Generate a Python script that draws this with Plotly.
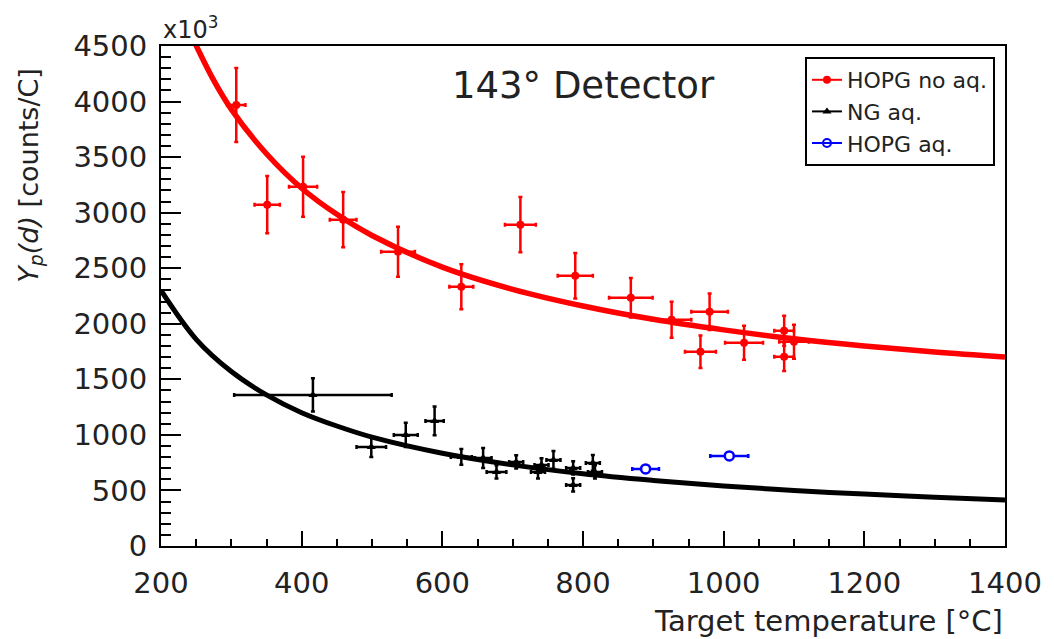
import plotly.graph_objects as go

# HOPG no aq. (red)
red_T = [307, 351, 402, 459, 537, 627, 711, 789, 868, 926, 980, 967, 1029, 1086, 1086, 1100]
red_Y = [3970, 3072, 3234, 2937, 2649, 2333, 2892, 2432, 2234, 2036, 2108, 1748, 1829, 1937, 1703, 1838]
red_xerr = [13, 18, 20, 19, 24, 17, 22, 25, 31, 28, 26, 22, 27, 14, 14, 21]
red_yerr = [333, 257, 270, 248, 225, 203, 248, 205, 177, 162, 165, 146, 153, 135, 128, 153]

# NG aq. (black)
ng_T = [416, 499, 548, 589, 627, 658, 677, 705, 736, 741, 758, 786, 786, 814, 817]
ng_Y = [1360, 892, 1000, 1126, 802, 793, 667, 757, 667, 730, 775, 703, 550, 748, 667]
ng_xerr = [112, 21, 17, 13, 15, 12, 14, 10, 10, 10, 10, 10, 10, 10, 10]
ng_yerr = [150, 90, 110, 130, 70, 90, 60, 60, 60, 60, 80, 60, 60, 70, 60]

# HOPG aq. (blue)
aq_T = [889, 1008]
aq_Y = [694, 811]
aq_xerr = [19, 27]
aq_yerr = [20, 20]

# fit curves
red_fit_T = [245, 275, 300, 350, 400, 450, 500, 600, 700, 800, 900, 1000, 1100, 1200, 1300, 1400]
red_fit_Y = [4570, 4190, 3930, 3530, 3220, 2985, 2795, 2510, 2310, 2160, 2040, 1945, 1865, 1800, 1745, 1700]
ng_fit_T = [200, 250, 300, 350, 400, 450, 500, 600, 700, 800, 900, 1000, 1100, 1200, 1300, 1400]
ng_fit_Y = [2300, 1860, 1570, 1360, 1200, 1080, 980, 835, 730, 650, 590, 540, 500, 467, 438, 414]

x_ticks = [200, 400, 600, 800, 1000, 1200, 1400]
y_ticks = [0, 500, 1000, 1500, 2000, 2500, 3000, 3500, 4000, 4500]

FONT = "DejaVu Sans"
TXT = "#222222"

fig = go.Figure()

# fits
fig.add_trace(go.Scatter(x=red_fit_T, y=red_fit_Y, mode="lines", line=dict(color="#ff0000", width=5.5, shape="spline"),
                         showlegend=False, hoverinfo="skip"))
fig.add_trace(go.Scatter(x=ng_fit_T, y=ng_fit_Y, mode="lines", line=dict(color="#000000", width=5, shape="spline"),
                         showlegend=False, hoverinfo="skip"))

# data
def data_trace(x, y, xe, ye, color, symbol, size, open_=False):
    return go.Scatter(
        x=x, y=y, mode="markers", showlegend=False,
        marker=dict(symbol=symbol, size=size, color="white" if open_ else color,
                    line=dict(color=color, width=2.5 if open_ else 0)),
        error_x=dict(type="data", array=xe, color=color, thickness=2.5, width=2),
        error_y=dict(type="data", array=ye, color=color, thickness=2.5, width=2),
    )

fig.add_trace(data_trace(red_T, red_Y, red_xerr, red_yerr, "#ff0000", "circle", 8))
fig.add_trace(data_trace(ng_T, ng_Y, ng_xerr, ng_yerr, "#000000", "triangle-up", 8))
fig.add_trace(data_trace(aq_T, aq_Y, aq_xerr, aq_yerr, "#0000ff", "circle", 9, open_=True))

# legend-only entries
fig.add_trace(go.Scatter(x=[None], y=[None], mode="lines+markers", name="HOPG no aq.",
                         line=dict(color="#ff0000", width=2), marker=dict(symbol="circle", size=8, color="#ff0000")))
fig.add_trace(go.Scatter(x=[None], y=[None], mode="lines+markers", name="NG aq.",
                         line=dict(color="#000000", width=2), marker=dict(symbol="triangle-up", size=8, color="#000000")))
fig.add_trace(go.Scatter(x=[None], y=[None], mode="lines+markers", name="HOPG aq.",
                         line=dict(color="#0000ff", width=2),
                         marker=dict(symbol="circle-open", size=8, color="#0000ff", line=dict(width=2))))

fig.update_layout(
    width=1054, height=639,
    margin=dict(l=161, r=45, t=46, b=93),
    paper_bgcolor="white", plot_bgcolor="white",
    font=dict(family=FONT, color=TXT),
    legend=dict(x=0.763, y=0.978, xanchor="left", yanchor="top",
                bgcolor="white", bordercolor="black", borderwidth=2,
                font=dict(size=22, family=FONT, color=TXT),
                itemwidth=30, tracegroupgap=0),
    xaxis=dict(range=[200, 1400], tickvals=x_ticks, ticktext=[str(v) for v in x_ticks],
               ticks="inside", ticklen=15, tickwidth=2, tickcolor="black",
               showline=True, linecolor="black", linewidth=2, mirror=True,
               showgrid=False, zeroline=False,
               tickfont=dict(size=29, family=FONT, color=TXT), ticklabelstandoff=10,
               minor=dict(dtick=50, ticks="inside", ticklen=7, tickwidth=1.5, tickcolor="black", showgrid=False)),
    yaxis=dict(range=[0, 4500], tickvals=y_ticks, ticktext=[str(v) for v in y_ticks],
               ticks="inside", ticklen=20, tickwidth=2, tickcolor="black",
               showline=True, linecolor="black", linewidth=2, mirror=True,
               showgrid=False, zeroline=False,
               tickfont=dict(size=29, family=FONT, color=TXT), ticklabelstandoff=6,
               minor=dict(dtick=100, ticks="inside", ticklen=10, tickwidth=1.5, tickcolor="black", showgrid=False)),
    annotations=[
        dict(text="143° Detector", x=0.5, y=0.92, xref="paper", yref="paper", showarrow=False,
             xanchor="center", yanchor="middle", font=dict(size=37, family=FONT, color=TXT)),
        dict(text="x10<sup>3</sup>", x=0.0, y=1.0, xref="paper", yref="paper", showarrow=False,
             xanchor="left", yanchor="bottom", yshift=0, font=dict(size=24, family=FONT, color=TXT)),
        dict(text="Target temperature [°C]", x=1.0, y=-0.112, xref="paper", yref="paper", showarrow=False,
             xanchor="right", yanchor="top", font=dict(size=29, family=FONT, color=TXT)),
        dict(text="<i>Y</i><sub><i>p</i></sub><i>(d)</i> [counts/C]", x=-0.155, y=1.0, xref="paper", yref="paper",
             showarrow=False, textangle=-90, xanchor="center", yanchor="top", yshift=-20,
             font=dict(size=27, family=FONT, color=TXT)),
    ],
)

fig.write_html("out.html")
